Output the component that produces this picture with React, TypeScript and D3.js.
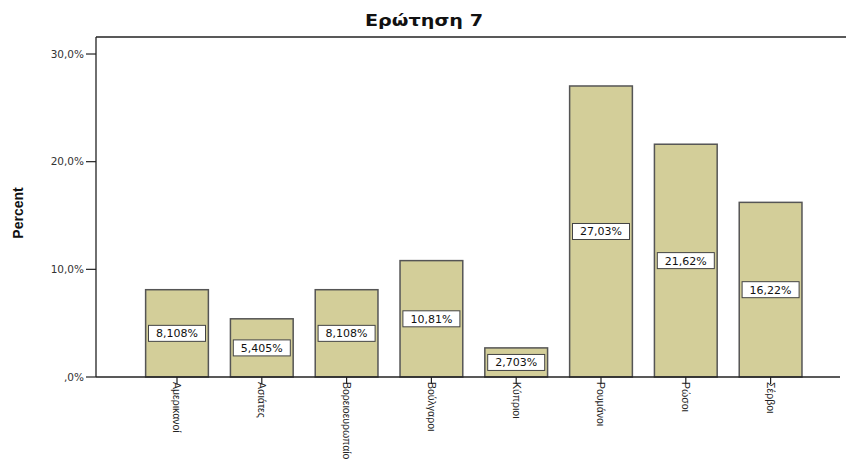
import React from "react";
import * as d3 from "d3";

const categories = ["Αμερικανοί", "Ασιάτες", "Βορειοευρωπαίο", "Βούλγαροι", "Κύπριοι", "Ρουμάνοι", "Ρώσοι", "Σέρβοι"];
const values = [8.108, 5.405, 8.108, 10.81, 2.703, 27.03, 21.62, 16.22];
const valueLabels = ["8,108%", "5,405%", "8,108%", "10,81%", "2,703%", "27,03%", "21,62%", "16,22%"];
const yTicks = [0, 10, 20, 30];
const yTickLabels = [",0%", "10,0%", "20,0%", "30,0%"];

const W = 846, H = 459;
const left = 96, top = 37, bottom = 377;

export default function App() {
  const y = d3.scaleLinear().domain([0, 31.58]).range([bottom, top]);
  const x = d3.scaleBand<string>().domain(categories).range([134.6, 813]).paddingInner(0.26).paddingOuter(0.13);
  const font = "'Liberation Sans', Arial, sans-serif";
  const wide = "'DejaVu Sans', Verdana, sans-serif";
  return (
    <svg width={W} height={H} style={{ position: "absolute", left: 0, top: 0, background: "#fff" }}>
      <text x={424} y={26} textAnchor="middle" fontFamily={wide} fontWeight="bold" fontSize={15} fill="#111"
        textLength={118} lengthAdjust="spacingAndGlyphs">Ερώτηση 7</text>
      <text transform={`translate(23,${213}) rotate(-90)`} textAnchor="middle" fontFamily={font} fontWeight="bold" fontSize={14} fill="#111">Percent</text>
      {/* frame */}
      <line x1={left} x2={W} y1={top} y2={top} stroke="#222" strokeWidth={1.3} />
      <line x1={left} x2={left} y1={top} y2={bottom} stroke="#222" strokeWidth={1.3} />
      {/* bars */}
      {categories.map((c, i) => (
        <rect key={c} x={x(c)} y={y(values[i])} width={x.bandwidth()} height={y(0) - y(values[i])}
          fill="#d3ce99" stroke="#555" strokeWidth={1.5} />
      ))}
      <line x1={left} x2={W - 6} y1={bottom} y2={bottom} stroke="#222" strokeWidth={1.3} />
      {/* y ticks */}
      {yTicks.map((t, i) => (
        <g key={t}>
          <line x1={left - 10} x2={left} y1={y(t)} y2={y(t)} stroke="#222" strokeWidth={1.2} />
          <text x={left - 12} y={y(t)} dy="0.35em" textAnchor="end" fontFamily={wide} fontSize={10.5} fill="#333">{yTickLabels[i]}</text>
        </g>
      ))}
      {/* x ticks and labels */}
      {categories.map((c) => {
        const cx = (x(c) as number) + x.bandwidth() / 2;
        return (
          <g key={c}>
            <line x1={cx} x2={cx} y1={bottom} y2={bottom + 7} stroke="#222" strokeWidth={1.2} />
            <text transform={`translate(${cx},${bottom + 5}) rotate(90)`} dy="0.35em" textAnchor="start"
              fontFamily={font} fontSize={10.5} fill="#222">{c}</text>
          </g>
        );
      })}
      {/* value labels */}
      {categories.map((c, i) => {
        const cx = (x(c) as number) + x.bandwidth() / 2;
        const cy = y(values[i] / 2);
        const bw = 57;
        return (
          <g key={c}>
            <rect x={cx - bw / 2} y={cy - 8} width={bw} height={16} fill="#fff" stroke="#444" strokeWidth={1} />
            <text x={cx} y={cy} dy="0.36em" textAnchor="middle" fontFamily={wide} fontSize={11} fill="#111">{valueLabels[i]}</text>
          </g>
        );
      })}
    </svg>
  );
}
